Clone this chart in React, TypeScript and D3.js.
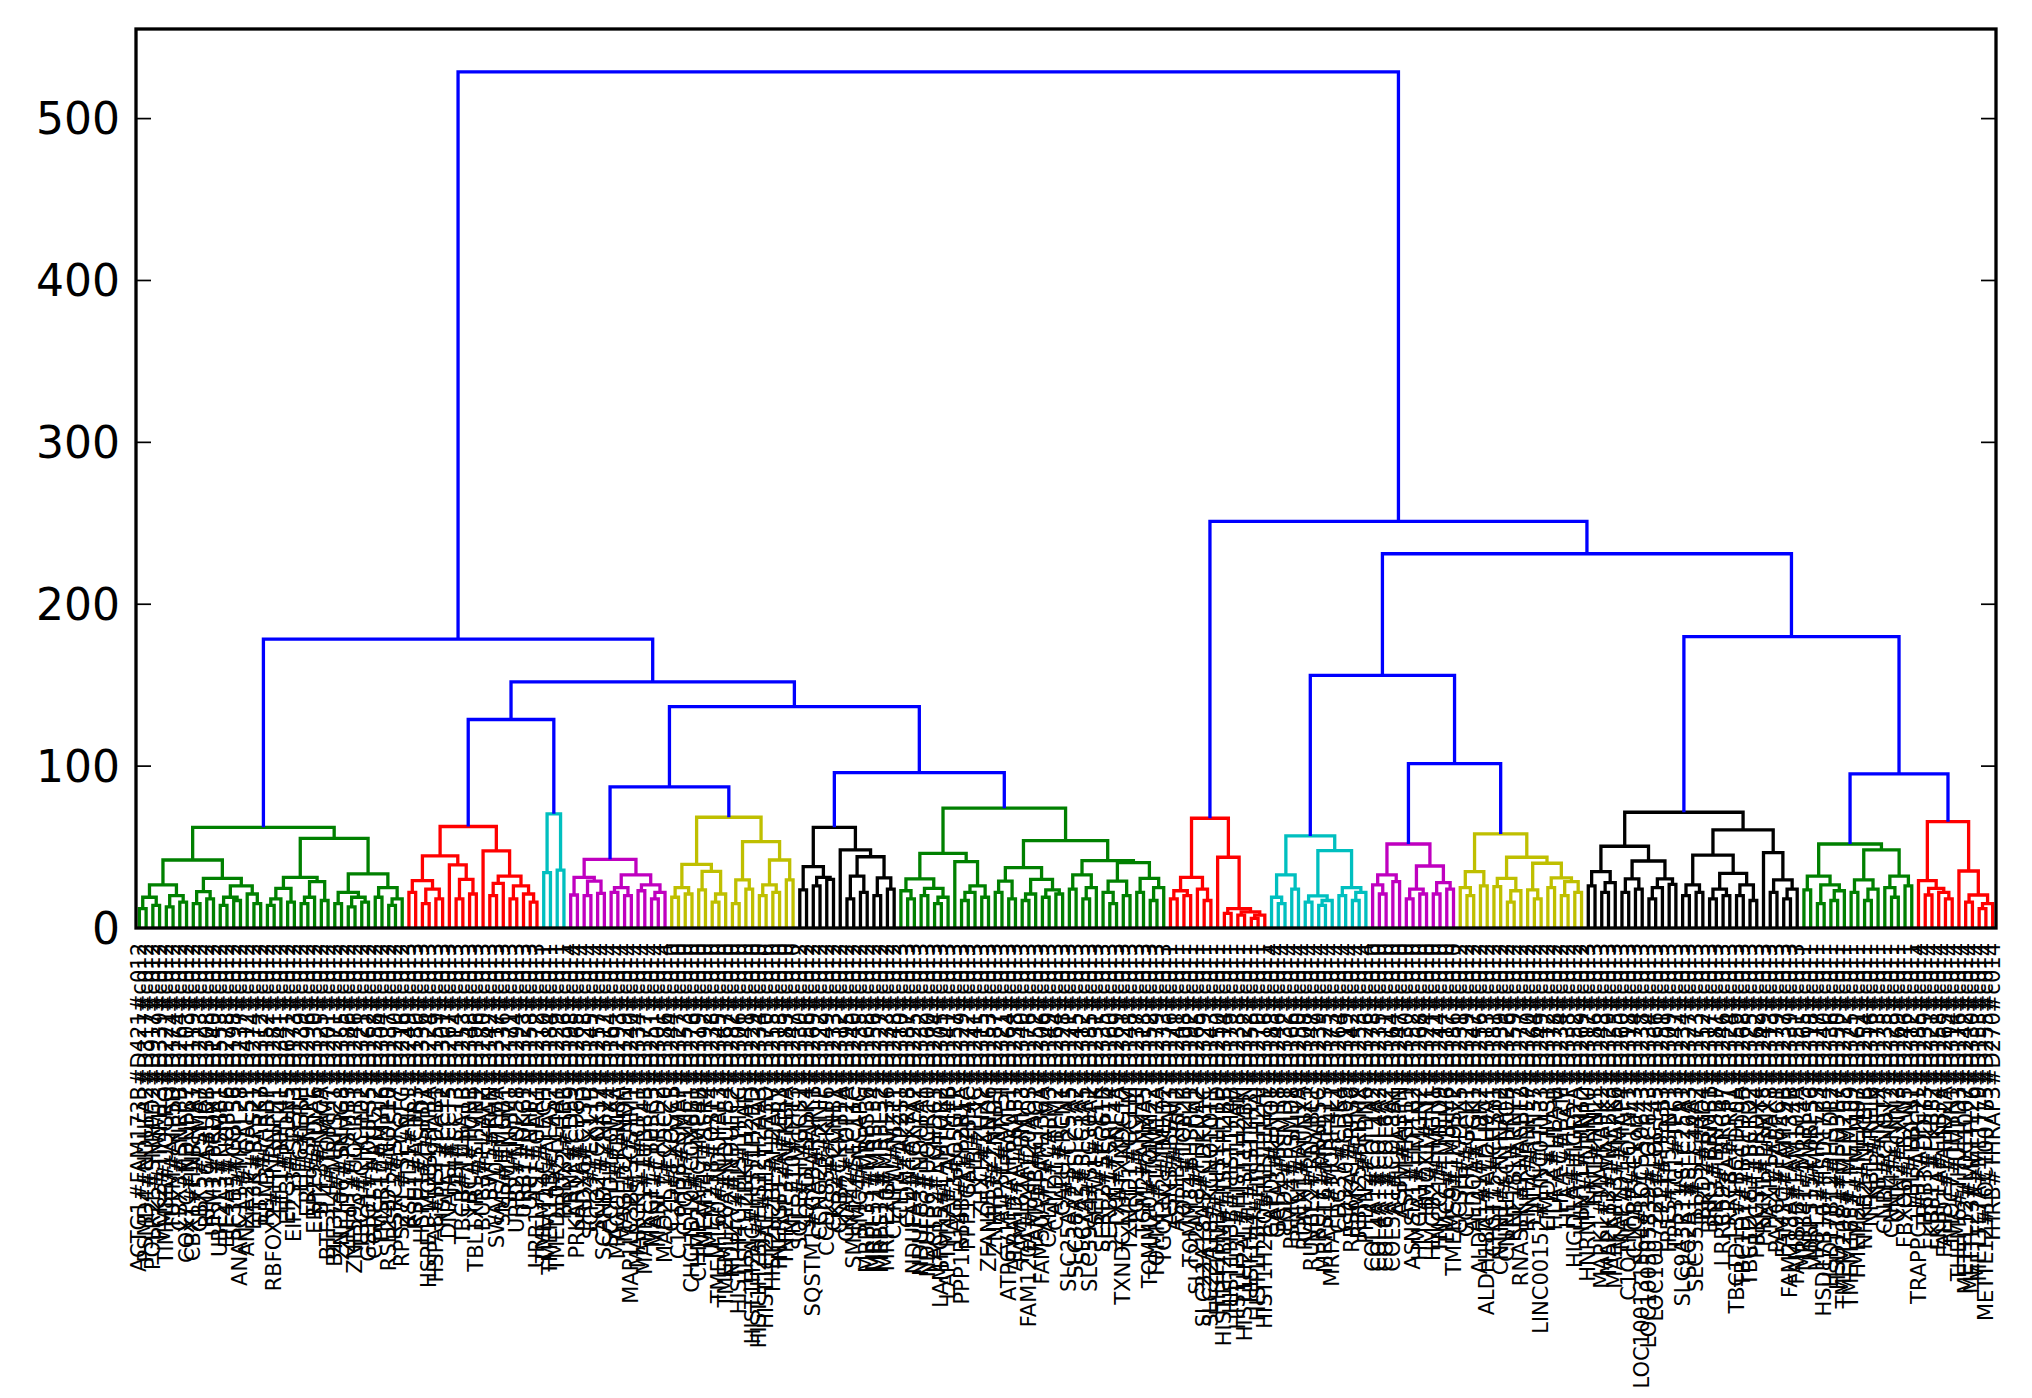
import React, { useEffect } from 'react';
import * as d3 from 'd3';

// ---------- DATA ----------
// Colour of each flat cluster (left to right) and the colour of the links above them
const clusterColors = ['#008000', '#ff0000', '#00bfbf', '#bf00bf', '#bfbf00', '#000000', '#008000',
  '#ff0000', '#00bfbf', '#bf00bf', '#bfbf00', '#000000', '#008000', '#ff0000'];
const aboveColor = '#0000ff';

// Sub-trees of each cluster: '*' = a leaf (taken in order), "(a,b)h" = merge at height h
const clusterTrees = [
  '(((((*,*)12,(*,*)14)19,((*,*)13,(*,*)16)20)26.6,(((*,*)15,(*,*)18)22.5,(((*,*)14,(*,*)17)19,(*,(*,*)15)21)26)30.7)42,(((((*,*)14,*)18,(*,*)16)24.5,(((*,*)15,*)19,(*,*)17)28.6)31.3,(((*,*)15,((*,*)13,(*,*)16)19)22,((*,*)19,((*,*)14,*)18)25)33.4)55.4)62.2',
  '((((*,*)22,((*,*)15,(*,*)18)24)29.3,(*,((*,*)18,(*,*)21)30)39)44.5,(*,(((*,*)20,*)27.6,((*,*)18,(*,(*,*)16)21)26)32)47.6)62.7',
  '((*,*)34.2,(*,*)35.8)70.5',
  '(((*,*)20.4,((*,*)20,(*,*)21.4)29)31.3,(((*,*)22,(*,*)20)25,((*,*)23,((*,*)18,*)22)26.6)32.8)42.4',
  '((((*,*)19,(*,*)21)25,((*,*)23.5,((*,*)16,*)21)35)39.3,(((*,*)15,(*,*)24)29.7,(((*,*)20,(*,*)22)26.6,(*,*)29.7)42)53.4)68.4',
  '(((*,*)23.5,((*,*)26,(*,*)30)31.3)37.9,(*,(((*,*)18,(*,*)22)32,((*,*)20,(*,*)24)31)44)48.2)62.2',
  '((((*,(*,*)18)23,((*,*)20,((*,*)15,*)19)24.5)30.3,(*,(((*,*)17,*)22,(*,*)19)26)41)46.1,((((*,*)22,(*,*)18)29,(((*,*)17,*)21,((*,*)19,(*,*)21)23.5)30)37.3,(((*,*)24,((*,*)18,*)25)32.8,(((*,(*,*)15)22,(*,*)20)29,((*,*)22,((*,*)17,*)25)30.7)40.4)41.6)54)74',
  '((((*,*)18,(*,*)20)23,(*,(*,*)17)24)31.3,(*,((*,*)9,((*,*)8,((*,*)6,*)8)10)12)43.7)67.8',
  '(((*,(*,*)15)19,(*,*)24)32.8,(((*,*)16,((*,*)14,*)17)19.8,((*,*)20,((*,*)17,*)22)25)47.8)56.9',
  '(((*,(*,*)21)26.6,(*,*)28.6)32.8,(((*,*)18,(*,*)21)24,((*,*)21,(*,*)24)28)38.3)51.9',
  '(((*,(*,*)20)25,(*,*)26)34.8,(((*,*)25.5,((*,*)16,*)23)30.7,((*,(*,*)18)23.5,((*,*)25,((*,*)20,(*,*)22)28.6)31)40)43.7)58.1',
  '((((*,*)26,((*,*)22,*)28)34.8,(((*,*)22,(*,*)24)30.3,(((*,*)18,*)25,(*,*)27)30.3)41.4)50.5,((((*,*)20,(*,*)22)26.6,(((*,*)18,(*,*)20)24,((*,*)20,(*,*)17)26.6)33.8)45,(*,((*,*)22,((*,*)18,*)24)29.7)46.6)60.6)71.5',
  '(((*,*)23.5,((*,*)15,((*,*)17,*)23)26.6)32,(((*,*)22,((*,*)17,*)24)29.7,((*,(*,*)19)25,(*,*)26)32)48.2)51.9',
  '((*,((*,*)20.4,(*,(*,*)18)22)24.5)29.3,(*,((*,*)16,((*,*)12,*)15)20.4)35.2)65.7',
];

// How the clusters (by index) join above the colour threshold
const topTree = '((0,((1,2)128.8,((3,4)87.2,(5,6)96)136.8)152)178.4,(7,((8,(9,10)101.6)156,(11,(12,13)95.2)180)231.2)251.2)528.9';

const yTicks = [0, 100, 200, 300, 400, 500];

const leafLabels = [
  // green
  'ACTG1#FAM173B#D421#c012', 'PSMD4#NDUFA2#D317#c012', 'POLR2L#SNRPD2#D917#c012', 'PCK2#TIMM13#D339#c012',
  'TIMM8B#UQCRQ#D221#c012', 'TUFM#ATP5D#D174#c012', 'CBX3#SNRPB#D264#c012', 'COX7C#NDUFB7#D103#c012',
  'CBX1#HNRNPA1#D119#c012', 'CBX5#PSMA7#D223#c012', 'RPL36A#UBB#D308#c012', 'URM1#PRDX1#D140#c012',
  'UBE2L3#PSMB1#D553#c012', 'EIF4A3#NOP56#D278#c012', 'SF3B5#COPS6#D198#c012', 'ANAPC11#MRPL28#D237#c012',
  'ANXA2#LGALS1#D412#c012', 'EIF3K#RPS21#D274#c012', 'ETFB#PARK7#D312#c012', 'RBM3#CIRBP#D152#c012',
  'RBFOX2#HNRNPH1#D281#c012', 'EIF1#RPL41#D341#c012', 'EIF3I#PFDN5#D621#c012', 'EIF2S3#SRSF3#D173#c012',
  'EIF6#ERH#D239#c012', 'ERH#SNRPE#D296#c012', 'ERP29#PDIA6#D330#c012', 'BTF3#NACA#D125#c012',
  'BTF3L4#TOMM7#D201#c012', 'BTF3L4#MRPS21#D271#c012', 'ZNF706#SNHG8#D355#c012', 'ZNHIT1#PSMB3#D186#c012',
  'ZNF593#UQCR11#D246#c012', 'TBCA#CHCHD2#D321#c012', 'GSTO1#NDUFS5#D162#c012', 'CGREF1#ATP5J2#D258#c012',
  'TMSB10#MYL6#D304#c012', 'RSL24D1#NOP10#D137#c012', 'RSRC2#SRSF7#D290#c012', 'RPS27L#SEC61G#D216#c012',
  // red
  'RSL1D1#NCL#D249#c013', 'RSU1#ACTR3#D180#c013', 'HSPE1#HSPD1#D336#c013', 'HSPE1-MOB4#PPIA#D224#c013',
  'HSPA8#HSP90AB1#D159#c013', 'HSPE1#CCT2#D301#c013', 'DNAJA1#CCT5#D267#c013', 'DBI#CCT3#D114#c013',
  'TBCB#TUBA1B#D253#c013', 'TBCA#TUBB#D348#c013', 'TBL1XR1#STMN1#D196#c013', 'BUB3#H2AFZ#D280#c013',
  'SWI5#RAN#D142#c013', 'SWAP70#PTMA#D317#c013', 'SMS#HMGB1#D236#c013', 'SRM#NPM1#D171#c013',
  'URB2#NOP58#D294#c013', 'URB1#DKC1#D323#c013', 'URI1#NHP2#D158#c013', 'URB1-AS1#GAR1#D272#c013',
  // cyan
  'TMEM14C#FECH#D310#c011', 'TMEM14B#ALAS2#D184#c011', 'TMED10#SLC4A1#D229#c011', 'PRDX2#HBB#D336#c011',
  // magenta
  'PRNP#CD59#D198#c014', 'PRKAR1A#CD63#D265#c014', 'PRDX6#CTSD#D328#c014', 'SCP2#PEX11B#D145#c014',
  'SCO2#COX17#D257#c014', 'SCAND1#ZNF24#D312#c014', 'SCCPDH#GPX4#D164#c014', 'MAGOH#RBM8A#D293#c014',
  'MAGED2#NDN#D129#c014', 'MAP1LC3B#SQSTM1#D240#c014', 'MARCKSL1#CFL1#D334#c014', 'MAPRE1#TUBB4B#D177#c014',
  'MAGT1#TUSC3#D251#c014', 'MANF#CRELD2#D301#c014', 'MAD2L1#CDC20#D186#c014',
  // yellow
  'C1D#EXOSC5#D244#c010', 'C11orf58#SMAP#D327#c010', 'C1QBP#NME1#D153#c010', 'CHCHD10#COX6B1#D276#c010',
  'CHMP2A#CHMP4B#D319#c010', 'TMEM147#SSR4#D192#c010', 'TMEM258#OST4#D238#c010', 'TMEM160#NDUFAF3#D345#c010',
  'TMEM126A#NDUFB4#D167#c010', 'NDUFV2#NDUFC2#D282#c010', 'HIST1H4C#HIST1H1C#D306#c010', 'HIST1H2BK#H2AFJ#D141#c010',
  'HIST1H2AC#HIST1H2BD#D229#c010', 'HIST1H2BJ#HIST2H2AA3#D334#c010', 'HIST1H2AE#HIST1H3D#D170#c010',
  'HIST2H2BE#H2AFV#D255#c010', 'TNFRSF12A#IER3#D318#c010', 'TNFAIP3#NFKBIA#D183#c010', 'TNFSF10#IFIT3#D247#c010',
  // black
  'SQLE#HMGCS1#D330#c012', 'SQRDL#PDK4#D156#c012', 'SQSTM1#GABARAPL1#D269#c012', 'CCNG2#TXNIP#D322#c012',
  'CCDC85B#KLF6#D149#c012', 'CKS2#CCNB1#D233#c012', 'CKB#CKMT1A#D312#c012', 'CKAP2#TOP2A#D195#c012',
  'SMIM14#SEC11C#D240#c012', 'SMC4#NCAPG#D335#c012', 'MRPL33#MRPS36#D168#c012', 'MRPL51#MRPL54#D256#c012',
  'MRPS14#MRPL52#D327#c012', 'MRPL20#MRPL36#D133#c012', 'CENPW#MZT1#D248#c012',
  // green
  'CLTA#AP2S1#D310#c013', 'CLDN4#KRT8#D187#c013', 'NDUFA4#COX7A2#D225#c013', 'NDUFB3#NDUFA1#D332#c013',
  'NDUFS6#UQCR10#D160#c013', 'LACTB2#ECHDC1#D274#c013', 'LAMTOR5#LAMTOR2#D305#c013', 'LAPTM4A#LAPTM4B#D141#c013',
  'LAGE3#OSGEP#D257#c013', 'PPP1R14B#PPP2R1A#D329#c013', 'PPP1CA#PPP4C#D172#c013', 'PPIB#PPIC#D241#c013',
  'ZHX1#ZHX2#D315#c013', 'ZFAND5#ZFAND6#D153#c013', 'ZNHIT3#ZNRD1#D287#c013', 'ATP5L#ATP5I#D321#c013',
  'ATP6V1F#ATP6V0E1#D164#c013', 'ATRAID#ATP6AP1#D238#c013', 'FAM162A#BNIP3#D340#c013', 'FAM120A#FAM120AOS#D176#c013',
  'FAM96B#CIAO1#D252#c013', 'FAM50A#FAM136A#D306#c013', 'CALM2#CALM3#D149#c013', 'CALD1#TPM2#D264#c013',
  'CALU#RCN1#D328#c013', 'SLC25A3#SLC25A5#D171#c013', 'SLC38A2#SLC3A2#D245#c013', 'SLC7A5#SLC1A5#D312#c013',
  'SLC39A4#SLC30A1#D185#c013', 'SEPW1#SELK#D231#c013', 'SERF2#SEC61B#D335#c013', 'SERBP1#SRP14#D160#c013',
  'TXN#TXNL4A#D269#c013', 'TXNDC17#TXNDC12#D321#c013', 'TXNRD1#GCLM#D148#c013', 'TGIF1#TGFBI#D237#c013',
  'TGM2#ANXA5#D318#c013', 'TOMM20#TOMM22#D152#c013', 'TOMM5#TIMM17A#D279#c013', 'TGOLN2#TMED2#D333#c013',
  // red
  'ASNS#PSAT1#D176#c011', 'ASF1B#RRM2#D241#c011', 'TOP1#TOP2B#D308#c011', 'TOMM34#HSPH1#D192#c011',
  'SLC22A18#PHLDA2#D265#c011', 'SLC22A18AS#CDKN1C#D329#c011', 'SLC22A18#KCNQ1OT1#D143#c011',
  'HIST1H1B#HIST1H1D#D250#c011', 'HIST1H2BM#HIST1H2BB#D314#c011', 'HIST1H3B#HIST1H4B#D179#c011',
  'HIST1H3F#HIST1H2AM#D238#c011', 'HIST1H2AL#HIST1H2BN#D322#c011', 'HIST1H4L#HIST1H3J#D158#c011',
  'HIST1H3H#HIST1H2AJ#D270#c011', 'HIST1H2BO#HIST1H1E#D316#c011',
  // cyan
  'GAPDH#ENO1#D183#c014', 'GATA3#KRT18#D246#c014', 'PSD4#PSMD1#D332#c014', 'PSMC4#PSMD8#D166#c014',
  'PSEN1#APH1A#D250#c014', 'RUNX1#RUNX3#D308#c014', 'RUVBL2#RUVBL1#D147#c014', 'RUFY1#RAB5C#D239#c014',
  'MRPS16#MRPL13#D325#c014', 'MRFAP1#MORF4L1#D173#c014', 'CDC37#CDK4#D264#c014', 'CD320#CD99#D319#c014',
  'RPS6KA1#RPS6#D142#c014', 'RBM25#RBMX#D253#c014', 'PFDN2#PFDN6#D326#c014',
  // magenta
  'COL1A1#COL1A2#D178#c010', 'COL4A1#COL4A2#D235#c010', 'COL6A1#COL6A2#D311#c010', 'COL5A1#COL3A1#D164#c010',
  'ASPH#ASPN#D247#c010', 'ASPM#KIF11#D330#c010', 'ASNSD1#EEF1B2#D152#c010', 'HMGA1#HMGN2#D268#c010',
  'HMOX1#FTL#D324#c010', 'HMGB2#HMGN1#D171#c010', 'TMCO1#TMED9#D244#c010', 'TMC6#TMBIM6#D317#c010',
  'TMEM59#TM9SF2#D186#c010',
  // yellow
  'GCSH#GLRX5#D231#c012', 'GCHFR#GCH1#D329#c012', 'ALDOA#PGK1#D147#c012', 'ALDH1A1#ALDH2#D256#c012',
  'ALDH18A1#ALDH9A1#D313#c012', 'CHST15#CHSY1#D181#c012', 'CNTN1#CNTNAP2#D239#c012', 'CNTRL#CNTROB#D326#c012',
  'RNF181#RNF7#D159#c012', 'RNASEK#RNASET2#D277#c012', 'RNH1#RNPEP#D320#c012', 'LIN7C#LIN37#D164#c012',
  'LINC00152#LINC01133#D249#c012', 'LIMD2#LIMS1#D312#c012', 'HLA-A#HLA-B#D178#c012', 'HLA-C#B2M#D234#c012',
  'HLA-E#HLA-F#D338#c012', 'HIGD1A#HIGD2A#D152#c012', 'HINT1#HINT2#D269#c012',
  // black
  'HNRNPK#HNRNPU#D317#c013', 'HN1#HN1L#D186#c013', 'MAPK1#MAPKAPK2#D243#c013', 'MAPK13#MAP2K3#D329#c013',
  'MAPKAPK3#MAPK6#D155#c013', 'MAP7D1#MAP4#D260#c013', 'C1QTNF6#C1QTNF1#D318#c013', 'C1QBP#C1orf43#D174#c013',
  'LOC100131564#LOC550643#D238#c013', 'LOC100505839#LOC643#D334#c013', 'LOC1007226#LOC145#D166#c013',
  'TPT1#TP53I3#D251#c013', 'TP53#TP53INP1#D309#c013', 'TP53TG1#TP63#D147#c013', 'SLC9A3R1#SLC25A1#D234#c013',
  'SLC2A1#SLC16A3#D327#c013', 'SLC35B1#SLC44A2#D173#c013', 'BRD2#BRD4#D252#c013', 'BRK1#BRMS1#D317#c013',
  'BRI3#BRI3BP#D181#c013', 'LRRC59#LRRC47#D246#c013', 'LRRC8A#LRP1#D324#c013', 'TBC1D13#TBC1D10A#D159#c013',
  'TBC1D1#TBC1D9B#D268#c013', 'TBC1D16#TBC1D2#D325#c013', 'PRKCSH#PRDX4#D162#c013', 'PRMT1#PRMT5#D249#c013',
  'PAXIP1#PAX8#D313#c013', 'PA2G4#PABPC1#D179#c013', 'FAM3C#FAM49B#D237#c013', 'FAM213A#FAM134B#D339#c013',
  'FAM89B#FAM104A#D151#c013',
  // green
  'MRPL41#MRPL43#D265#c011', 'MRPS15#MRPS6#D318#c011', 'MRPL12#MRPL23#D177#c011', 'HSD17B10#HSD17B4#D240#c011',
  'HSD17B12#HSDL2#D336#c011', 'HSD11B1#HSD3B7#D150#c011', 'TMEM208#TMEM205#D272#c011', 'TMEM165#TMEM109#D325#c011',
  'TMEM54#TMEM97#D161#c011', 'NFKB2#NFKBIB#D254#c011', 'NFKB1#RELB#D316#c011', 'NFIB#NFIX#D173#c011',
  'CNBP#CNOT7#D235#c011', 'CNIH4#CNPY2#D328#c011', 'CNN2#CNN3#D169#c011', 'FBXO6#FBXW5#D246#c011',
  'FBL#FBLN1#D312#c011',
  // red
  'TRAPPC1#TRAPPC2L#D185#c014', 'TRIB3#DDIT3#D239#c014', 'FKBP11#FKBP2#D321#c014', 'FKBP1A#FKBP4#D158#c014',
  'FAHD1#FAHD2A#D265#c014', 'THOC7#THYN1#D314#c014', 'THEM6#THUMPD3#D176#c014', 'METTL12#LOC1007#D242#c014',
  'METTL23#METTL26#D330#c014', 'METTL7A#METTL9#D153#c014', 'METTL12#LOC100775#D255#c014', 'THRB#THRAP3#D270#c014',
];

// ---------- TREE PARSING ----------
type TNode = { x: number; h: number; color: string; left?: TNode; right?: TNode };

function makeReader(s: string) {
  const st = { p: 0 };
  const readNum = () => {
    const m = /^[0-9.]+/.exec(s.slice(st.p));
    const v = m ? parseFloat(m[0]) : 0;
    st.p += m ? m[0].length : 0;
    return v;
  };
  return { st, readNum };
}

function parseCluster(src: string, color: string, counter: { i: number }): TNode {
  const s = src.replace(/\s/g, '');
  const { st, readNum } = makeReader(s);
  const node = (): TNode => {
    if (s[st.p] === '*') {
      st.p++;
      const i = counter.i++;
      return { x: 5 + 10 * i, h: 0, color };
    }
    st.p++; // (
    const l = node();
    st.p++; // ,
    const r = node();
    st.p++; // )
    const h = readNum();
    return { x: (l.x + r.x) / 2, h, color, left: l, right: r };
  };
  return node();
}

function parseTop(src: string, clusters: TNode[]): TNode {
  const s = src.replace(/\s/g, '');
  const { st, readNum } = makeReader(s);
  const node = (): TNode => {
    if (s[st.p] !== '(') return clusters[Math.round(readNum())];
    st.p++;
    const l = node();
    st.p++;
    const r = node();
    st.p++;
    const h = readNum();
    return { x: (l.x + r.x) / 2, h, color: aboveColor, left: l, right: r };
  };
  return node();
}

const counter = { i: 0 };
const clusterRoots = clusterTrees.map((t, k) => parseCluster(t, clusterColors[k], counter));
const nLeaves = counter.i;
const root = parseTop(topTree, clusterRoots);

const links: { l: TNode; r: TNode; n: TNode }[] = [];
(function walk(n: TNode) {
  if (n.left && n.right) {
    links.push({ l: n.left, r: n.right, n });
    walk(n.left);
    walk(n.right);
  }
})(root);

// ---------- LAYOUT ----------
const W = 2032;
const H = 1398;
const plot = { left: 136, right: 1996, top: 29, bottom: 928 };

export default function App() {
  useEffect(() => {
    document.body.style.margin = '0';
  }, []);

  const x = d3.scaleLinear().domain([0, nLeaves * 10]).range([plot.left, plot.right]);
  const y = d3.scaleLinear().domain([0, root.h * 1.05]).range([plot.bottom, plot.top]);

  const blue = links.filter((d) => d.n.color === aboveColor);
  const colored = links.filter((d) => d.n.color !== aboveColor);

  const pathFor = (d: { l: TNode; r: TNode; n: TNode }) =>
    `M${x(d.l.x)},${y(d.l.h)}V${y(d.n.h)}H${x(d.r.x)}V${y(d.r.h)}`;

  return (
    <svg width={W} height={H} style={{ display: 'block', background: '#fff' }}
      fontFamily="'DejaVu Sans', sans-serif">
      <rect x={0} y={0} width={W} height={H} fill="#fff" />
      <g fill="none" strokeWidth={3.3} strokeLinejoin="miter" strokeLinecap="butt">
        {colored.map((d, i) => (
          <path key={'c' + i} d={pathFor(d)} stroke={d.n.color} />
        ))}
        {blue.map((d, i) => (
          <path key={'b' + i} d={pathFor(d)} stroke={aboveColor} />
        ))}
      </g>
      {/* y ticks */}
      <g>
        {yTicks.map((t) => (
          <g key={t}>
            <line x1={plot.left} x2={plot.left + 15} y1={y(t)} y2={y(t)} stroke="#000" strokeWidth={1.7} />
            <line x1={plot.right} x2={plot.right - 15} y1={y(t)} y2={y(t)} stroke="#000" strokeWidth={1.7} />
            <text x={plot.left - 16} y={y(t)} textAnchor="end" dominantBaseline="central" fontSize={44} fill="#000">
              {t}
            </text>
          </g>
        ))}
      </g>
      {/* frame */}
      <rect x={plot.left} y={plot.top} width={plot.right - plot.left} height={plot.bottom - plot.top}
        fill="none" stroke="#000" strokeWidth={3.3} />
      {/* leaf labels */}
      <g fontSize={21} fill="#000">
        {leafLabels.slice(0, nLeaves).map((lab, i) => (
          <text key={i} transform={`translate(${x(5 + 10 * i)},${plot.bottom + 15}) rotate(-90)`}
            textAnchor="end" dominantBaseline="central">
            {lab}
          </text>
        ))}
      </g>
    </svg>
  );
}
